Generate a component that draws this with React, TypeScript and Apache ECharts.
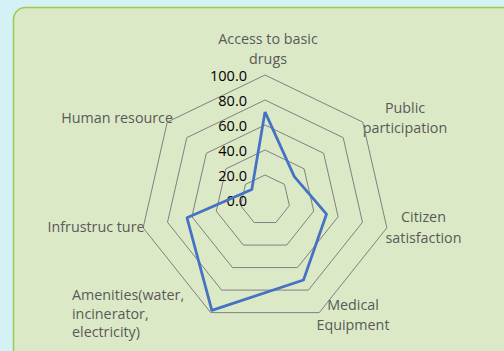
import React, { useEffect, useRef } from "react";
import * as echarts from "echarts";

const indicatorNames = [
  "Access to basic\ndrugs",
  "Public\nparticipation",
  "Citizen\nsatisfaction",
  "Medical\nEquipment",
  "Amenities(water,\nincinerator,\nelectricity)",
  "Infrustruc ture",
  "Human resource",
];
const scoreValues = [70.5, 30, 50.5, 71, 98, 64, 13.5];
const tickValues = [0, 20, 40, 60, 80, 100];

const labelPlacement = [
  { x: 268, y: 48.3, align: "center", lh: 20 },
  { x: 405, y: 117.7, align: "center", lh: 20 },
  { x: 423.5, y: 227.2, align: "center", lh: 21 },
  { x: 353, y: 314.3, align: "center", lh: 20 },
  { x: 72, y: 313.3, align: "left", lh: 18.4 },
  { x: 144.5, y: 226.7, align: "right", lh: 20 },
  { x: 173, y: 117.7, align: "right", lh: 20 },
];

export default function App() {
  const ref = useRef<HTMLDivElement>(null);
  useEffect(() => {
    if (!ref.current) return;
    const chart = echarts.init(ref.current, null, { renderer: "svg" });
    const n = indicatorNames.length;
    // ECharts radar goes counter-clockwise; reorder so the chart reads clockwise
    const order = [0, ...Array.from({ length: n - 1 }, (_, i) => n - 1 - i)];
    const font = "'Open Sans', sans-serif";
    chart.setOption({
      animation: false,
      backgroundColor: "#d4f1f5",
      graphic: [
        {
          type: "rect",
          z: -10,
          shape: { x: 13.5, y: 7.5, width: 530, height: 370, r: 12 },
          style: { fill: "#dce9c6", stroke: "#9dc94f", lineWidth: 1.5 },
        },
        ...indicatorNames.map((name, i) => ({
          type: "text",
          x: labelPlacement[i].x,
          y: labelPlacement[i].y,
          style: {
            text: name,
            fill: "#595959",
            fontSize: 14.3,
            fontFamily: font,
            textAlign: labelPlacement[i].align,
            textVerticalAlign: "middle",
            lineHeight: labelPlacement[i].lh,
          },
        })),
      ],
      radar: {
        center: [265, 200],
        radius: 125,
        shape: "polygon",
        splitNumber: 5,
        indicator: order.map((i) => ({ name: indicatorNames[i], min: 0, max: 100 })),
        axisName: { show: false },
        axisLine: { show: false },
        axisTick: { show: false },
        splitArea: { show: false },
        splitLine: { lineStyle: { color: "#808080", width: 1 } },
      },
      polar: { center: [265, 200], radius: 125 },
      angleAxis: {
        type: "value",
        startAngle: 90,
        show: false,
      },
      radiusAxis: {
        type: "value",
        min: tickValues[0],
        max: tickValues[tickValues.length - 1],
        interval: 20,
        axisLine: { show: false },
        axisTick: { show: false },
        splitLine: { show: false },
        axisLabel: {
          formatter: (v: number) => v.toFixed(1),
          color: "#000",
          fontSize: 14.5,
          fontFamily: font,
          margin: 18,
        },
      },
      series: [
        {
          type: "radar",
          symbol: "none",
          lineStyle: { color: "#4472c4", width: 2.75 },
          data: [{ value: order.map((i) => scoreValues[i]) }],
        },
      ],
    });
    return () => chart.dispose();
  }, []);
  return (
    <div
      ref={ref}
      style={{ position: "fixed", left: 0, top: 0, width: 504, height: 351 }}
    />
  );
}
